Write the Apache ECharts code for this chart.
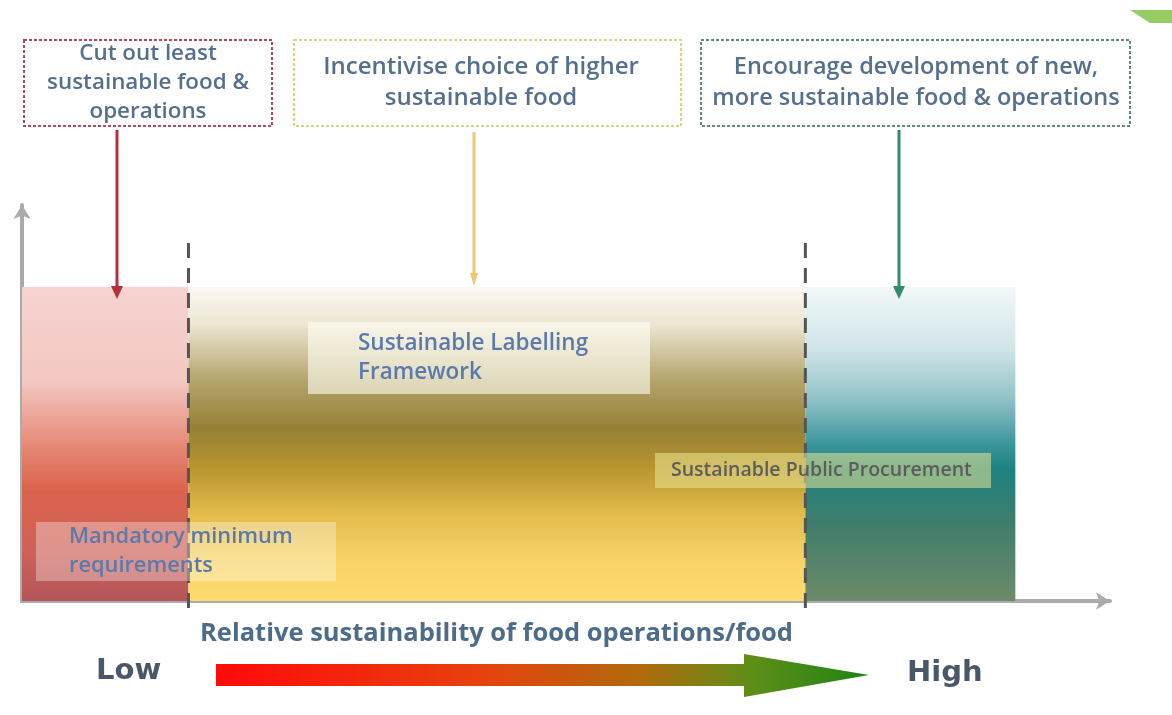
<!DOCTYPE html>
<html>
  <head>
    <meta charset="utf-8" />
    <title>Sustainable food policy instruments</title>
  </head>
  <body style="margin: 0; background: #fff">
    <script src="https://cdn.jsdelivr.net/npm/echarts@6/dist/echarts.min.js"></script>

    <div id="chart" style="width: 1172px; height: 715px"></div>

    <script>
      // zones along the "relative sustainability" axis (0..100)
      const zoneNames = ['Least sustainable', 'Middle', 'Most sustainable'];
      const zoneStart = [0, 15.3, 72];
      const zoneEnd = [15.3, 72, 91.3];
      const zoneTop = [79.3, 79.3, 79.3];
      const dividers = [15.3, 72];

      const topBoxTexts = [
        'Cut out least\nsustainable food &\noperations',
        'Incentivise choice of higher\nsustainable food',
        'Encourage development of new,\nmore sustainable food & operations',
      ];
      const instrumentTexts = [
        'Mandatory minimum\nrequirements',
        'Sustainable Labelling\nFramework',
        'Sustainable Public Procurement',
      ];
      const axisTitle = 'Relative sustainability of food operations/food';
      const lowLabel = 'Low';
      const highLabel = 'High';

      const G = echarts.graphic.LinearGradient;
      const zoneFills = [
        new G(0, 0, 0, 1, [
          { offset: 0, color: '#f6d3d0' },
          { offset: 0.3, color: '#f3c8c2' },
          { offset: 0.5, color: '#e68a78' },
          { offset: 0.65, color: '#db634c' },
          { offset: 0.85, color: '#cd6258' },
          { offset: 1, color: '#b4555a' },
        ]),
        new G(0, 0, 0, 1, [
          { offset: 0, color: '#faf8f3' },
          { offset: 0.12, color: '#ece6d2' },
          { offset: 0.3, color: '#b3a46a' },
          { offset: 0.45, color: '#958036' },
          { offset: 0.58, color: '#b9962f' },
          { offset: 0.72, color: '#e2bb4c' },
          { offset: 0.88, color: '#f8d466' },
          { offset: 1, color: '#ffdb70' },
        ]),
        new G(0, 0, 0, 1, [
          { offset: 0, color: '#f2f8f9' },
          { offset: 0.2, color: '#cfe4e7' },
          { offset: 0.36, color: '#8fc1c6' },
          { offset: 0.5, color: '#3c969d' },
          { offset: 0.58, color: '#1d8280' },
          { offset: 0.75, color: '#3f7d6c' },
          { offset: 1, color: '#6d8b69' },
        ]),
      ];

      const textBlue = '#55708c';
      const font = '"Open Sans", "Noto Sans", sans-serif';

      function topBox(x, y, w, h, border, text, cx, size, lh) {
        return [
          {
            type: 'rect',
            shape: { x: x, y: y, width: w, height: h },
            style: { fill: '#fff', stroke: border, lineWidth: 2, lineDash: [3, 2] },
          },
          {
            type: 'text',
            x: cx,
            y: y + h / 2,
            style: {
              text: text,
              fill: textBlue,
              fontFamily: font,
              fontWeight: 600,
              fontSize: size,
              align: 'center',
              verticalAlign: 'middle',
              lineHeight: lh,
            },
          },
        ];
      }

      function downArrow(x, y1, y2, color, head) {
        return [
          {
            type: 'line',
            z: 20,
            shape: { x1: x, y1: y1, x2: x, y2: y2 - 8 },
            style: { stroke: color, lineWidth: 3 },
          },
          {
            type: 'polygon',
            z: 20,
            shape: { points: [[x - head, y2 - 13], [x + head, y2 - 13], [x, y2]] },
            style: { fill: color },
          },
        ];
      }

      function labelBox(x, y, w, h, bg, text, tx, color, size) {
        return [
          {
            type: 'rect',
            z: 10,
            shape: { x: x, y: y, width: w, height: h },
            style: { fill: bg },
          },
          {
            type: 'text',
            z: 11,
            x: tx,
            y: y + h / 2,
            style: {
              text: text,
              fill: color,
              fontFamily: font,
              fontWeight: 600,
              fontSize: size,
              verticalAlign: 'middle',
              lineHeight: 29,
            },
          },
        ];
      }

      let graphics = [].concat(
        topBox(24, 40, 248, 86, '#b04a5c', topBoxTexts[0], 148, 22.4, 29),
        topBox(294, 40, 387, 86, '#d9d385', topBoxTexts[1], 481, 24, 31),
        topBox(701, 40, 429, 86, '#5e8c7a', topBoxTexts[2], 916, 23.5, 31),
        downArrow(117, 130, 299, '#b3303f', 6),
        downArrow(474, 132, 286, '#ebc872', 4),
        downArrow(899, 130, 299, '#348a6c', 6),
        labelBox(36, 522, 300, 59, 'rgba(255,255,255,0.32)', instrumentTexts[0], 69, '#5a7aae', 21.8),
        labelBox(308, 322, 342, 72, 'rgba(255,255,245,0.6)', instrumentTexts[1], 358, '#5a7aae', 22.5),
        labelBox(655, 453, 336, 35, 'rgba(235,230,150,0.55)', instrumentTexts[2], 671, '#5c5c5c', 19.5),
        [
          {
            type: 'text',
            x: 200,
            y: 634,
            style: {
              text: axisTitle,
              fill: '#4d6c8a',
              fontFamily: font,
              fontWeight: 'bold',
              fontSize: 25.5,
              verticalAlign: 'middle',
            },
          },
          {
            type: 'text',
            x: 96,
            y: 671,
            style: {
              text: lowLabel,
              fill: '#4a5768',
              font: 'bold 29px "DejaVu Sans", sans-serif',
              verticalAlign: 'middle',
            },
          },
          {
            type: 'text',
            x: 907,
            y: 673,
            style: {
              text: highLabel,
              fill: '#4a5768',
              font: 'bold 29px "DejaVu Sans", sans-serif',
              verticalAlign: 'middle',
            },
          },
          {
            type: 'polygon',
            shape: {
              points: [
                [216, 664],
                [744, 664],
                [744, 654],
                [869, 675],
                [744, 697],
                [744, 686],
                [216, 686],
              ],
            },
            style: {
              fill: new G(0, 0, 1, 0, [
                { offset: 0, color: '#ff0a0a' },
                { offset: 0.4, color: '#e8400e' },
                { offset: 0.65, color: '#b06a0c' },
                { offset: 0.82, color: '#5e8e18' },
                { offset: 1, color: '#1f8414' },
              ]),
            },
          },
          {
            type: 'polygon',
            shape: { points: [[1130, 10], [1172, 10], [1172, 23], [1150, 23]] },
            style: { fill: '#96cc63' },
          },
        ]
      );

      let chart = echarts.init(document.getElementById('chart'), null, {
        width: 1172,
        height: 715,
      });

      const hiddenAxis = {
        type: 'value',
        min: 0,
        max: 100,
        splitLine: { show: false },
        axisTick: { show: false },
        axisLabel: { show: false },
        axisLine: {
          show: true,
          symbol: ['none', 'arrow'],
          symbolSize: [13, 14],
          lineStyle: { color: '#ababab', width: 4 },
        },
      };

      chart.setOption({
        animation: false,
        grid: { left: 22, right: 62, top: 205, bottom: 114 },
        xAxis: hiddenAxis,
        yAxis: hiddenAxis,
        graphic: graphics,
        series: [
          {
            name: 'zones',
            type: 'custom',
            z: 1,
            data: zoneNames.map((n, i) => [zoneStart[i], zoneEnd[i], zoneTop[i]]),
            renderItem: (params, api) => {
              const a = api.coord([api.value(0), api.value(2)]);
              const b = api.coord([api.value(1), 0]);
              return {
                type: 'rect',
                shape: { x: a[0], y: a[1], width: b[0] - a[0], height: b[1] - a[1] },
                style: { fill: zoneFills[params.dataIndex] },
              };
            },
          },
          {
            name: 'dividers',
            type: 'custom',
            z: 5,
            clip: false,
            data: dividers.map((d) => [d]),
            renderItem: (params, api) => {
              const a = api.coord([api.value(0), 90.4]);
              const b = api.coord([api.value(0), -2.3]);
              return {
                type: 'line',
                shape: { x1: a[0], y1: a[1], x2: b[0], y2: b[1] },
                style: { stroke: '#555', lineWidth: 3, lineDash: [15, 10] },
              };
            },
          },
        ],
      });
    </script>
  </body>
</html>
